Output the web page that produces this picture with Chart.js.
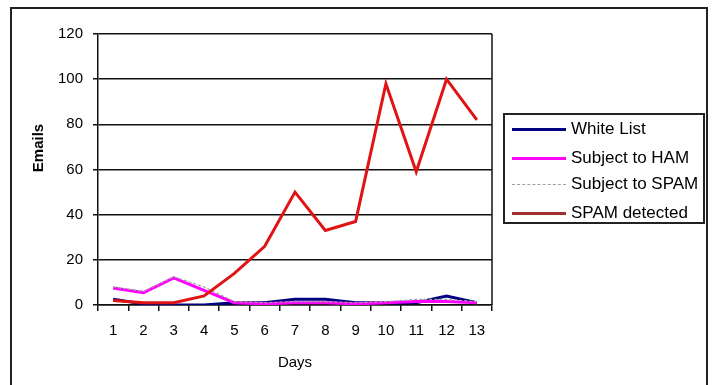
<!DOCTYPE html>
<html>
<head>
<meta charset="utf-8">
<script src="https://cdn.jsdelivr.net/npm/chart.js@4.4.1/dist/chart.umd.min.js"></script>
<style>
  body { margin: 0; background: #fff; font-family: "Liberation Sans", Arial, sans-serif; }
  #wrap { position: relative; width: 714px; height: 385px; }
  #frame { position: absolute; left: 10px; top: 7px; width: 698px; height: 380px; border: 2px solid #222; box-sizing: border-box; pointer-events: none; }
  #ytitle { position: absolute; left: 37px; top: 148px; transform: translate(-50%, -50%) rotate(-90deg); font-weight: bold; font-size: 15px; white-space: nowrap; }
  #legend { position: absolute; left: 503px; top: 113px; width: 202px; height: 111px; border: 2px solid #222; box-sizing: border-box; }
  .item { position: absolute; left: 7px; height: 18px; display: flex; align-items: center; font-size: 17px; color: #000; white-space: nowrap; }
  .swatch { width: 54px; margin-right: 5px; }
</style>
</head>
<body>
<div id="wrap">
  <canvas id="chart" width="714" height="385"></canvas>
  <div id="frame"></div>
  <div id="ytitle">Emails</div>
  <div id="legend"></div>
</div>
<script>
// Daily email counts per filter outcome
const days = ["1", "2", "3", "4", "5", "6", "7", "8", "9", "10", "11", "12", "13"];
const whiteList = [2.5, 0.5, 0, 0, 1, 1, 2.5, 2.5, 1, 1, 1, 4, 1];
const subjectHam = [7.5, 5.5, 12, 6.5, 1, 0.5, 1, 1, 0.5, 1, 1.5, 1.5, 1];
const subjectSpam = [8, 6, 12.5, 8, 1.5, 1, 1.5, 1.5, 1, 1.5, 2.5, 2.5, 1.5];
const spamDetected = [2, 1, 1, 4, 14, 26, 50, 33, 37, 98, 59, 100, 82];

const yTicks = [0, 20, 40, 60, 80, 100, 120];

const series = [
  { label: "White List", data: whiteList, color: "#000080", width: 3, dash: [], order: 3, key: "#000080" },
  { label: "Subject to HAM", data: subjectHam, color: "#ff00ff", width: 3, dash: [], order: 2, key: "#ff00ff" },
  { label: "Subject to SPAM", data: subjectSpam, color: "#a0a0a0", width: 1.2, dash: [3, 2], order: 1, key: "#a0a0a0" },
  { label: "SPAM detected", data: spamDetected, color: "#e01414", width: 3, dash: [], order: 0, key: "#a03030" }
];

// right edge of the plot area
const plotFrame = {
  id: "plotFrame",
  afterDraw(chart) {
    const { ctx, chartArea } = chart;
    ctx.save();
    ctx.strokeStyle = "#111";
    ctx.lineWidth = 1.5;
    ctx.beginPath();
    ctx.moveTo(chartArea.right, chartArea.top);
    ctx.lineTo(chartArea.right, chartArea.bottom);
    ctx.stroke();
    ctx.restore();
  }
};

const font = { family: "'Liberation Sans', Arial, sans-serif", size: 15 };

new Chart(document.getElementById("chart"), {
  type: "line",
  data: {
    labels: days,
    datasets: series.map(s => ({
      label: s.label,
      data: s.data,
      borderColor: s.color,
      borderWidth: s.width,
      borderDash: s.dash,
      order: s.order,
      pointRadius: 0,
      tension: 0,
      fill: false
    }))
  },
  options: {
    responsive: false,
    animation: false,
    layout: { padding: { left: 0, top: 34, right: 222, bottom: 0 } },
    plugins: { legend: { display: false }, tooltip: { enabled: false } },
    scales: {
      x: {
        offset: true,
        grid: { offset: true, drawOnChartArea: false, color: "#111", lineWidth: 1.5, tickLength: 6 },
        border: { color: "#111", width: 1.5 },
        ticks: { color: "#000", font: font, padding: 11, maxRotation: 0 },
        title: { display: true, text: "Days", color: "#000", font: { family: font.family, size: 15 }, padding: { top: 0, bottom: 13 } },
        afterFit: scale => { scale.height = 80; }
      },
      y: {
        min: 0,
        max: 120,
        afterBuildTicks: scale => { scale.ticks = yTicks.map(v => ({ value: v })); },
        grid: { color: "#111", lineWidth: 1.5, tickLength: 5 },
        border: { color: "#111", width: 1.5 },
        ticks: { color: "#000", font: font, padding: 10 },
        afterFit: scale => { scale.width = 98; }
      }
    }
  },
  plugins: [plotFrame]
});

// legend box beside the plot
const legend = document.getElementById("legend");
const rowTops = [5, 34, 60, 89];
series.forEach((s, i) => {
  const item = document.createElement("div");
  item.className = "item";
  item.style.top = rowTops[i] + "px";
  const sw = document.createElement("span");
  sw.className = "swatch";
  sw.style.borderTop = s.dash.length ? "1px dashed " + s.key : "3px solid " + s.key;
  item.appendChild(sw);
  item.appendChild(document.createTextNode(s.label));
  legend.appendChild(item);
});
</script>
</body>
</html>
